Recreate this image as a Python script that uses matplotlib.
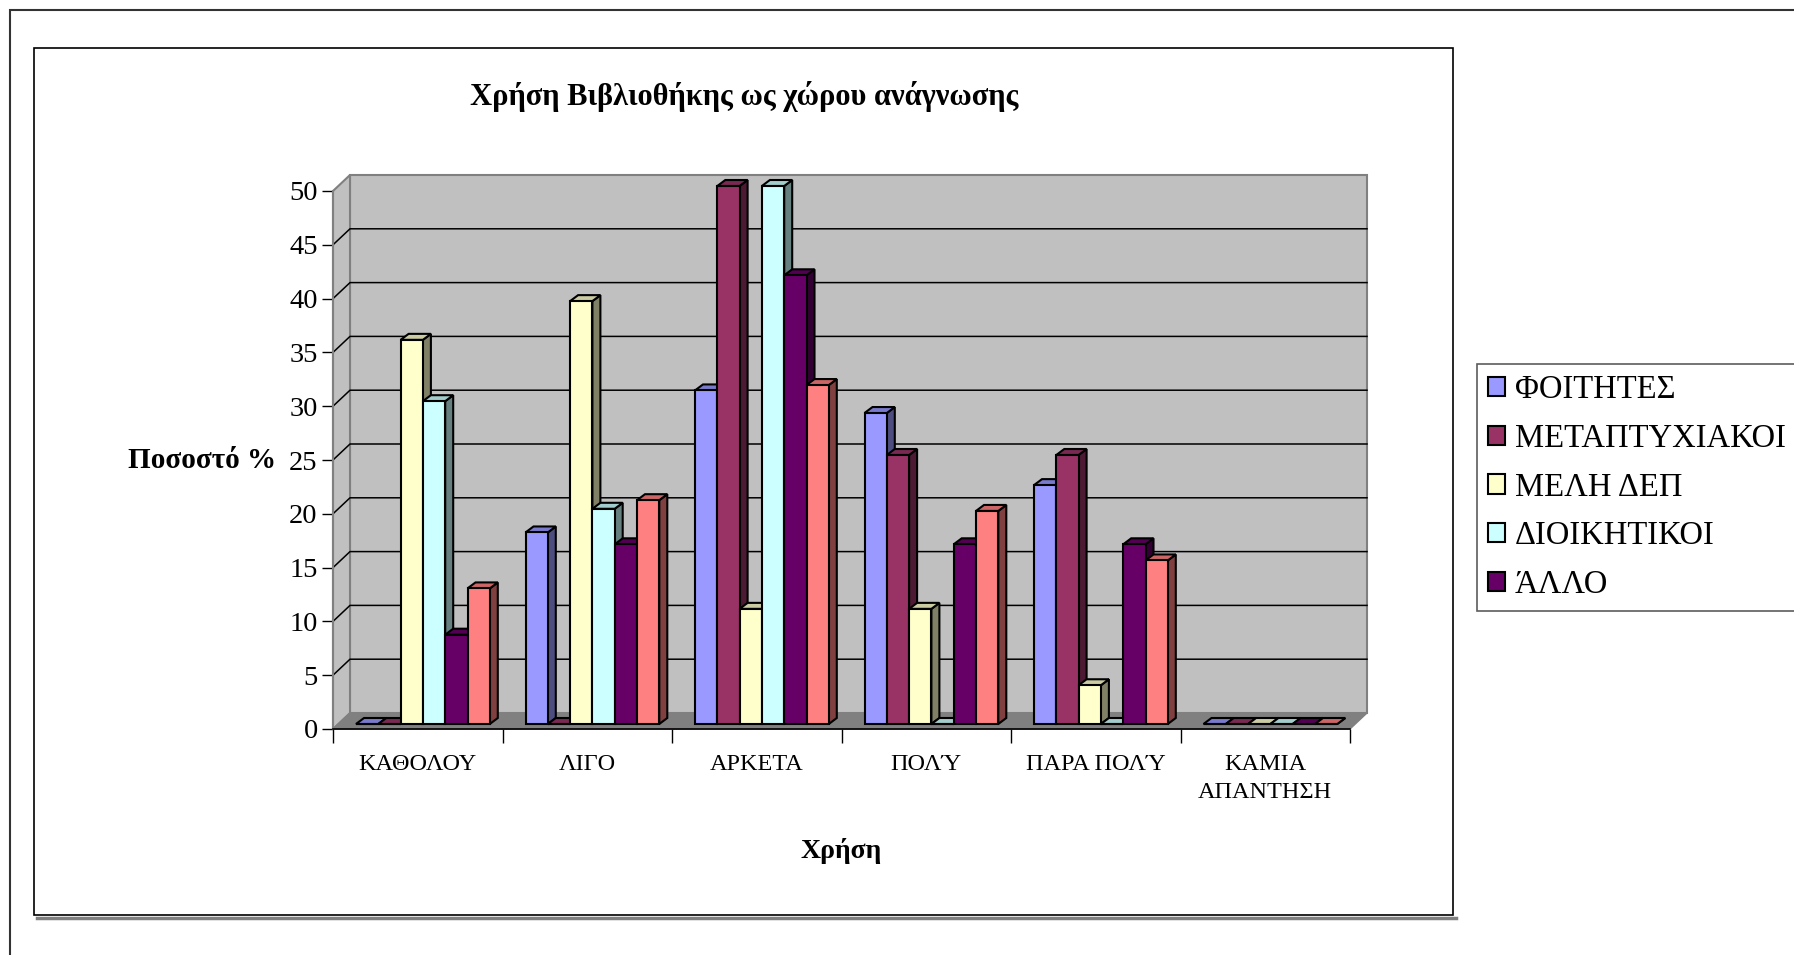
import numpy as np
import matplotlib
matplotlib.use("Agg")
import matplotlib.pyplot as plt
from matplotlib.patches import Rectangle, Polygon
from matplotlib.lines import Line2D

# --- data (ποσοστά %) ---
categories = ["ΚΑΘΟΛΟΥ", "ΛΙΓΟ", "ΑΡΚΕΤΑ", "ΠΟΛΎ", "ΠΑΡΑ ΠΟΛΎ", "ΚΑΜΙΑ\nΑΠΑΝΤΗΣΗ"]
series_names = ["ΦΟΙΤΗΤΕΣ", "ΜΕΤΑΠΤΥΧΙΑΚΟΙ", "ΜΕΛΗ ΔΕΠ", "ΔΙΟΙΚΗΤΙΚΟΙ", "ΆΛΛΟ", "ΣΥΝΟΛΟ"]
foitites = [0, 17.8, 31.0, 28.9, 22.2, 0]
metaptyxiakoi = [0, 0, 50.0, 25.0, 25.0, 0]
meli_dep = [35.7, 39.3, 10.7, 10.7, 3.6, 0]
dioikitikoi = [30.0, 20.0, 50.0, 0, 0, 0]
allo = [8.3, 16.7, 41.7, 16.7, 16.7, 0]
synolo = [12.6, 20.8, 31.5, 19.8, 15.2, 0]
series = [foitites, metaptyxiakoi, meli_dep, dioikitikoi, allo, synolo]
yticks = list(range(0, 55, 5))

face = ["#9999FF", "#993366", "#FFFFCC", "#CCFFFF", "#660066", "#FF8080"]

plt.rcParams["font.family"] = ["Liberation Serif", "DejaVu Serif"]

W, H = 1794, 955
fig = plt.figure(figsize=(W / 100, H / 100), dpi=100)
fig.patch.set_facecolor("white")

def fx(px):
    return px / W

def fy(py):
    return 1 - py / H

# frames (behind everything)
fig.add_artist(Rectangle((fx(10), fy(2000)), 3000 / W, (2000 - 10) / H, transform=fig.transFigure,
                         fill=False, edgecolor="#333333", lw=1.5, zorder=-10))
fig.add_artist(Line2D([fx(37), fx(1456)], [fy(918), fy(918)], transform=fig.transFigure,
                      color="#808080", lw=2.5, zorder=-10))
fig.add_artist(Rectangle((fx(34), fy(915)), (1453 - 34) / W, (915 - 48) / H, transform=fig.transFigure,
                         facecolor="white", edgecolor="black", lw=1.2, zorder=-9))

# plot area = front face of the 3D box
x0, x1, y0, y50 = 333, 1350, 729, 191
ax = fig.add_axes([fx(x0), fy(y0), (x1 - x0) / W, (y0 - y50) / H])
ax.set_xlim(0, 6)
ax.set_ylim(0, 50)
ax.patch.set_visible(False)
for s in ax.spines.values():
    s.set_visible(False)

upx = 6 / (x1 - x0)        # data units per pixel (x)
upy = 50 / (y0 - y50)      # data units per pixel (y)
wdx, wdy = 17 * upx, 16 * upy      # depth of walls
bdx, bdy = 8 * upx, 6 * upy        # depth of bars
bw = 22.3 * upx
start = 23 * upx
b0 = 5 * upy
nc = len(categories)

# walls and floor
ax.add_patch(Polygon([(wdx, wdy), (nc + wdx, wdy), (nc + wdx, 50 + wdy), (wdx, 50 + wdy)],
                     facecolor="#C0C0C0", edgecolor="#808080", lw=1.5, zorder=1, clip_on=False))
ax.add_patch(Polygon([(0, 0), (wdx, wdy), (wdx, 50 + wdy), (0, 50)],
                     facecolor="#C0C0C0", edgecolor="#808080", lw=1.5, zorder=1, clip_on=False))
ax.add_patch(Polygon([(0, 0), (nc, 0), (nc + wdx, wdy), (wdx, wdy)],
                     facecolor="#808080", edgecolor="#808080", lw=1, zorder=2, clip_on=False))
for v in yticks[1:-1]:
    ax.plot([0, wdx, nc + wdx], [v, v + wdy, v + wdy], color="black", lw=1.1, zorder=3, clip_on=False)
ax.plot([0, 0], [0, 50], color="#808080", lw=1.5, zorder=4, clip_on=False)
ax.plot([0, nc], [0, 0], color="black", lw=1.2, zorder=4, clip_on=False)

def shade(c, k):
    r, g, b = matplotlib.colors.to_rgb(c)
    return (r * k, g * k, b * k)

handles = []
xs = np.arange(nc)
for i, vals in enumerate(series):
    lefts = xs + start + i * bw
    z = 10 + 2 * i
    for xl, v in zip(lefts, vals):
        top = b0 + v
        ax.add_patch(Polygon([(xl + bw, b0), (xl + bw + bdx, b0 + bdy), (xl + bw + bdx, top + bdy), (xl + bw, top)],
                             facecolor=shade(face[i], 0.5), edgecolor="black", lw=1.5, zorder=z, clip_on=False))
        ax.add_patch(Polygon([(xl, top), (xl + bw, top), (xl + bw + bdx, top + bdy), (xl + bdx, top + bdy)],
                             facecolor=shade(face[i], 0.8), edgecolor="black", lw=1.5, zorder=z, clip_on=False))
    bars = ax.bar(lefts, vals, width=bw, bottom=b0, align="edge", color=face[i], edgecolor="black",
                  lw=1.5, zorder=z + 1, clip_on=False, label=series_names[i])
    handles.append(bars)

ax.set_yticks(yticks)
ax.tick_params(axis="y", direction="out", length=8, width=1, color="black", pad=3, labelsize=20.5)
ax.set_xticks(np.arange(nc + 1))
ax.set_xticklabels([])
ax.tick_params(axis="x", which="major", direction="out", length=10, width=1, color="black")
ax.set_xticks(xs + 0.5, minor=True)
ax.set_xticklabels(categories, minor=True, fontsize=17.5, linespacing=1.45)
ax.tick_params(axis="x", which="minor", length=0, pad=18)

fig.text(fx(744), fy(105), "Χρήση Βιβλιοθήκης ως χώρου ανάγνωσης", ha="center", va="baseline",
         fontsize=22, weight="bold")
fig.text(fx(202), fy(468), "Ποσοστό %", ha="center", va="baseline", fontsize=21, weight="bold")
fig.text(fx(841), fy(858), "Χρήση", ha="center", va="baseline", fontsize=20, weight="bold")

leg = fig.legend(handles[:5], series_names[:5], loc="upper left", bbox_to_anchor=(fx(1477), fy(364)),
                 bbox_transform=fig.transFigure, fontsize=23.5, frameon=True, fancybox=False,
                 borderaxespad=0, borderpad=0.33, handlelength=0.53, handleheight=0.53,
                 handletextpad=0.3, labelspacing=0.557)
leg.get_frame().set_edgecolor("#333333")
leg.get_frame().set_linewidth(1.2)

fig.savefig("out.png", dpi=100)
